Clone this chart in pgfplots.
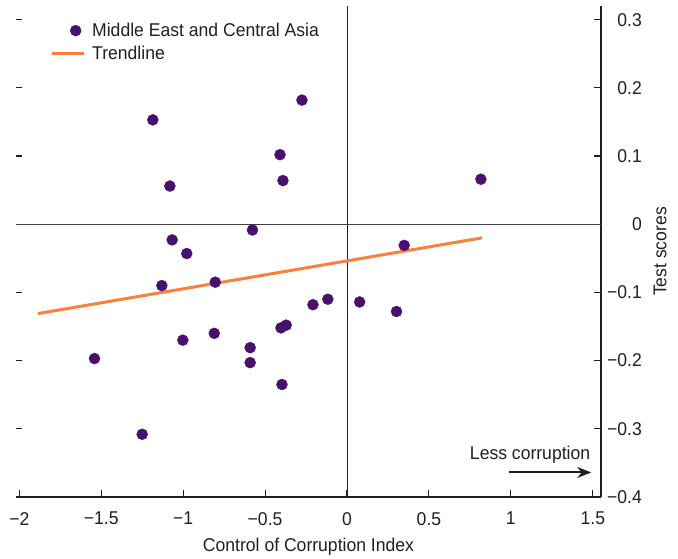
\documentclass[border=0pt]{standalone}
\usepackage{fontspec}
\setmainfont{Liberation Sans}[FakeStretch=0.95]
\usepackage{pgfplots}
\pgfplotsset{compat=1.18}
\usetikzlibrary{arrows.meta}
\definecolor{dotpurple}{RGB}{70,18,110}
\definecolor{trendorange}{RGB}{250,128,62}
\definecolor{axgray}{RGB}{35,31,32}

\pgfplotstableread{
x y
-1.185 0.153
-0.275 0.182
-0.409 0.102
-0.391 0.064
-1.081 0.056
0.817 0.066
-0.577 -0.0085
0.349 -0.031
-1.067 -0.023
-0.978 -0.043
-1.130 -0.090
-0.804 -0.085
-0.117 -0.110
-0.208 -0.118
0.077 -0.114
0.302 -0.128
-0.371 -0.148
-0.403 -0.152
-0.810 -0.160
-1.002 -0.170
-0.591 -0.181
-0.591 -0.203
-1.541 -0.197
-0.397 -0.235
-1.250 -0.308
}\pointsdata

\begin{document}
\begin{tikzpicture}[font=\fontsize{18.5bp}{22bp}\selectfont, text=axgray]
% left-side tick dashes (no axis line)
\begin{axis}[
  scale only axis, width=585bp, height=491bp,
  xmin=-2.02, xmax=1.55, ymin=-0.4, ymax=0.32,
  hide x axis,
  axis y line*=left,
  y axis line style={draw=none},
  ytick={-0.3,-0.2,-0.1,0,0.1,0.2,0.3},
  yticklabels={},
  tick align=inside,
  major tick length=6bp,
  ytick style={axgray, line width=1.1bp},
]
\end{axis}
\begin{axis}[
  scale only axis, width=585bp, height=491bp,
  xmin=-2.02, xmax=1.55, ymin=-0.4, ymax=0.32,
  axis x line*=bottom, axis y line*=right,
  axis line style={axgray, line width=1.1bp},
  xtick={-2,-1.5,-1,-0.5,0,0.5,1,1.5},
  xticklabels={−2,−1.5,−1,−0.5,0,0.5,1,1.5},
  ytick={-0.4,-0.3,-0.2,-0.1,0,0.1,0.2,0.3},
  yticklabels={−0.4,−0.3,−0.2,−0.1,0,0.1,0.2,0.3},
  tick align=inside,
  major tick length=7bp,
  tick style={axgray, line width=1.1bp},
  xticklabel style={anchor=north, inner sep=0pt, yshift=-15bp},
  yticklabel style={anchor=east, inner sep=0pt, xshift=41bp},
  xlabel={Control of Corruption Index},
  ylabel={Test scores},
  every axis x label/.style={at={(axis description cs:0.5,0)}, anchor=center, yshift=-50bp},
  every axis y label/.style={at={(axis description cs:1,0.5)}, anchor=center, rotate=90, yshift=-59bp},
  legend cell align=left,
  legend style={draw=none, fill=none, at={(rel axis cs:0,1)}, anchor=north west,
    xshift=34bp, yshift=-15bp, inner xsep=0pt, inner ysep=0pt,
    nodes={inner sep=2bp}, row sep=4bp, column sep=5bp,
    font=\fontsize{18.5bp}{22bp}\selectfont},
  clip=false,
]
\draw[axgray, line width=1bp] (axis cs:0,-0.4) -- (axis cs:0,0.32);
\draw[axgray!85, line width=1bp] (axis cs:-2.02,0) -- (axis cs:1.55,0);
\addplot[only marks, mark=*, mark size=5.5bp, mark options={draw=dotpurple, fill=dotpurple},
  legend image code/.code={\fill[dotpurple] (24bp,0bp) circle[radius=5.5bp]; \path[draw=none, fill=none] (0bp,0bp) -- (32bp,0bp);}]
  table[x=x, y=y] {\pointsdata};
\addlegendentry{Middle East and Central Asia}
\addplot[trendorange, line width=3bp,
  legend image code/.code={\draw[trendorange, line width=3bp] (0bp,0bp) -- (32bp,0bp);}]
  coordinates {(-1.885,-0.131) (0.824,-0.020)};
\addlegendentry{Trendline}
\node[anchor=east, inner sep=0pt] at (axis cs:1.485,-0.338) {Less corruption};
\draw[axgray, line width=2bp, -{Stealth[length=14bp, width=11bp]}] (axis cs:0.988,-0.364) -- (axis cs:1.49,-0.364);
\end{axis}
\path (current axis.south west) ++(-16bp,-60bp) rectangle ++(678bp,557bp);
\end{tikzpicture}
\end{document}
